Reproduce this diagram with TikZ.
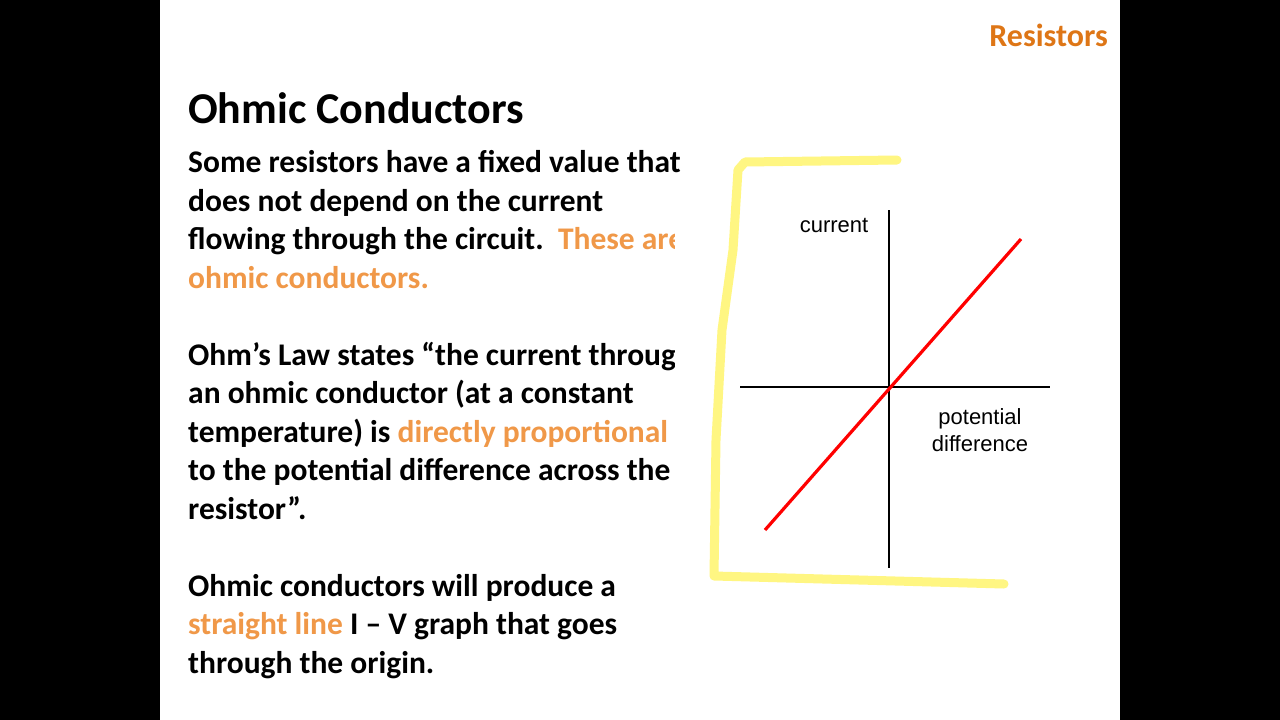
\documentclass[tikz,border=0pt]{standalone}
\usepackage{fontspec}
\setmainfont{Carlito}
\newfontfamily\arialf{Liberation Sans}
\definecolor{orA}{RGB}{222,118,22}
\definecolor{orB}{RGB}{240,152,72}
\definecolor{hl}{RGB}{255,246,130}
\begin{document}
\begin{tikzpicture}[x=1pt,y=-1pt,
  body/.style={anchor=base west,inner sep=0pt,font=\fontsize{31.5}{34}\selectfont\bfseries},
  lab/.style={inner sep=0pt,font=\arialf\fontsize{22}{27}\selectfont,align=center}]
\useasboundingbox (0,0) rectangle (1280,720);
\fill[black] (0,0) rectangle (1280,720);
\fill[white] (160,0) rectangle (1120,720);
\node[anchor=base east,inner sep=0pt,font=\fontsize{32}{34}\selectfont\bfseries,text=orA] (res) at (1108,46) {Resistors};
\node[anchor=base west,inner sep=0pt,font=\fontsize{44}{48}\selectfont\bfseries] (title) at (188,123) {Ohmic Conductors};
\node[body] (l1) at (188,172) {Some resistors have a fixed value that};
\node[body] (l2) at (188,211) {does not depend on the current};
\node[body] (l3) at (188,249) {flowing through the circuit.\ \ \textcolor{orB}{These are}};
\node[body,text=orB] (l4) at (188,288) {ohmic conductors.};
\node[body] (l5) at (188,365) {Ohm’s Law states “the current through};
\node[body] (l6) at (188,403) {an ohmic conductor (at a constant};
\node[body] (l7) at (188,442) {temperature) is \textcolor{orB}{directly proportional}};
\node[body] (l8) at (188,480) {to the potential difference across the};
\node[body] (l9) at (188,519) {resistor”.};
\node[body] (l10) at (188,596) {Ohmic conductors will produce a};
\node[body] (l11) at (188,634) {\textcolor{orB}{straight line} I – V graph that goes};
\node[body] (l12) at (188,673) {through the origin.};
% cover clipped parts
\fill[white] (693,140) rectangle (1110,182);
\fill[white] (675,182) rectangle (1110,600);
% highlighter
\draw[hl,line width=9pt,line cap=round,line join=round]
  (897,160) -- (745,162) -- (738,170) -- (733,250) -- (722,330) -- (716,440) -- (714,576) -- (1004,584);
% graph
\coordinate (vt) at (889,210); \coordinate (vb) at (889,568);
\coordinate (hl) at (740,387); \coordinate (hr) at (1050,387);
\coordinate (ra) at (765,530); \coordinate (rb) at (1021,239);
\draw[line width=2.6pt] (vt) -- (vb);
\draw[line width=2.6pt] (hl) -- (hr);
\draw[red,line width=3.2pt] (ra) -- (rb);
\node[lab] (cur) at (834,225) {current};
\node[lab] (pd) at (980,430) {potential\\difference};
\end{tikzpicture}
\end{document}
